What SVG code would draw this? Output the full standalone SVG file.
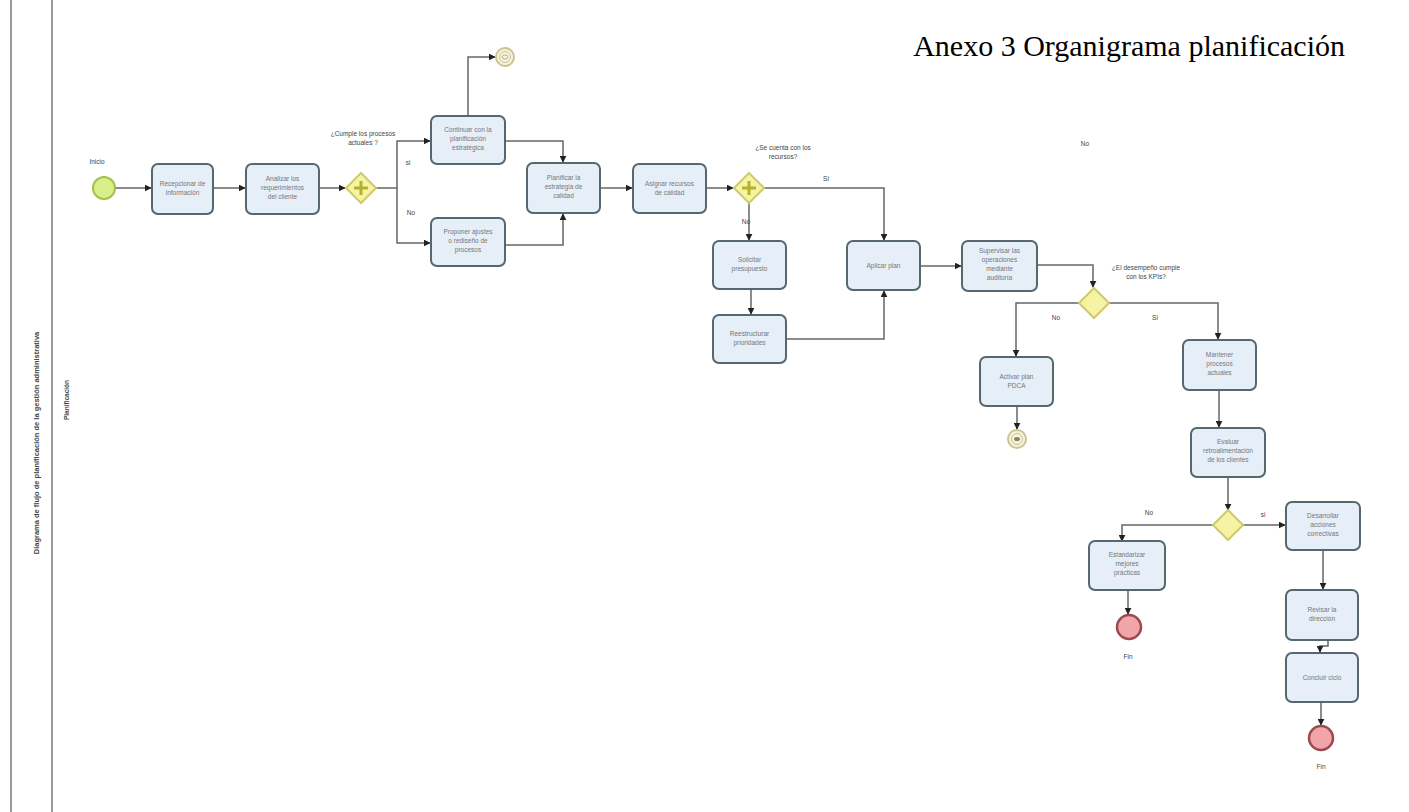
<svg xmlns="http://www.w3.org/2000/svg" width="1409" height="812" viewBox="0 0 1409 812">
<defs>
<marker id="arr" viewBox="0 0 10 10" refX="9" refY="5" markerWidth="7" markerHeight="7" orient="auto" markerUnits="userSpaceOnUse"><path d="M0,0 L10,5 L0,10 z" fill="#222"/></marker>
<style>
.task{fill:#e6eef8;stroke:#55676f;stroke-width:2}
.tt{font-family:"Liberation Sans",Arial,sans-serif;font-size:6.5px;fill:#777;text-anchor:middle}
.lbl{font-family:"Liberation Sans",Arial,sans-serif;font-size:6.5px;fill:#444;text-anchor:middle}
.gw{fill:#f6f4a4;stroke:#cfcb6a;stroke-width:2}
.plus{stroke:#b6b030;stroke-width:3;fill:none}
.c{fill:none;stroke:#666;stroke-width:1.5;marker-end:url(#arr)}
.endr{fill:#f2a5a8;stroke:#9c4a4e;stroke-width:2.5}
.endm{fill:#f7f4dc;stroke:#cbc393;stroke-width:2}
.lane{stroke:#999;stroke-width:2}
</style>
</defs>
<rect width="1409" height="812" fill="#fff"/>
<g id="pool">
<line class="lane" x1="11" y1="0" x2="11" y2="812"/>
<line class="lane" x1="52" y1="0" x2="52" y2="812"/>
<text transform="translate(39,443) rotate(-90)" font-family="Liberation Sans,Arial,sans-serif" font-size="7.5" font-weight="bold" fill="#444" text-anchor="middle">Diagrama de flujo de planificación de la gestión administrativa</text>
<text transform="translate(69,400) rotate(-90)" font-family="Liberation Sans,Arial,sans-serif" font-size="6.5" font-weight="bold" fill="#444" text-anchor="middle">Planificación</text>
</g>
<text x="1345" y="56" font-family="Liberation Serif,'Times New Roman',serif" font-size="30" fill="#000" text-anchor="end">Anexo 3 Organigrama planificación</text>

<g id="connectors">
<path class="c" d="M115,188 H151"/>
<path class="c" d="M213,188 H245"/>
<path class="c" d="M319,188 H345"/>
<path class="c" d="M376,188 H397 V141 H430"/>
<path class="c" d="M397,188 V243 H430"/>
<path class="c" d="M468,116 V57 H495"/>
<path class="c" d="M505,141 H563 V162"/>
<path class="c" d="M505,245 H563 V214"/>
<path class="c" d="M600,188 H632"/>
<path class="c" d="M706,188 H733"/>
<path class="c" d="M764,188 H884 V240"/>
<path class="c" d="M749,203 V240"/>
<path class="c" d="M751,289 V314"/>
<path class="c" d="M786,339 H884 V291"/>
<path class="c" d="M920,266 H961"/>
<path class="c" d="M1037,265 H1093 V287"/>
<path class="c" d="M1079,303 H1016 V356"/>
<path class="c" d="M1109,303 H1218 V339"/>
<path class="c" d="M1017,406 V429"/>
<path class="c" d="M1219,390 V427"/>
<path class="c" d="M1228,477 V510"/>
<path class="c" d="M1213,525 H1122 V541"/>
<path class="c" d="M1243,525 H1285"/>
<path class="c" d="M1128,590 V614"/>
<path class="c" d="M1323,550 V589"/>
<path class="c" d="M1328,640 V646 H1320 V652"/>
<path class="c" d="M1321,702 V725"/>
</g>

<g id="labels">
<text class="lbl" x="97" y="164">Inicio</text>
<text class="lbl" x="363" y="136">¿Cumple los procesos</text>
<text class="lbl" x="363" y="145">actuales ?</text>
<text class="lbl" x="408" y="165">si</text>
<text class="lbl" x="411" y="215">No</text>
<text class="lbl" x="783" y="150">¿Se cuenta con los</text>
<text class="lbl" x="783" y="159">recursos?</text>
<text class="lbl" x="826" y="181">Si</text>
<text class="lbl" x="746" y="224">No</text>
<text class="lbl" x="1085" y="146">No</text>
<text class="lbl" x="1146" y="270">¿El desempeño cumple</text>
<text class="lbl" x="1146" y="279">con los KPIs?</text>
<text class="lbl" x="1056" y="320">No</text>
<text class="lbl" x="1155" y="320">Si</text>
<text class="lbl" x="1149" y="515">No</text>
<text class="lbl" x="1263" y="517">si</text>
<text class="lbl" x="1128" y="659">Fin</text>
<text class="lbl" x="1321" y="769">Fin</text>
</g>

<g id="start"><circle cx="104" cy="188" r="11" fill="#d9ef8c" stroke="#a3c24a" stroke-width="2"/></g>

<g id="t1"><rect class="task" x="152" y="164" width="61" height="50" rx="6"/><text class="tt" x="182.5" y="186">Recepcionar de</text><text class="tt" x="182.5" y="195">información</text></g>
<g id="t2"><rect class="task" x="246" y="164" width="73" height="50" rx="6"/><text class="tt" x="282.5" y="181">Analizar los</text><text class="tt" x="282.5" y="190">requerimientos</text><text class="tt" x="282.5" y="199">del cliente</text></g>
<g id="g1"><path class="gw" d="M361,173 L376,188 L361,203 L346,188 z"/><path class="plus" d="M361,181 V195 M354,188 H368"/></g>
<g id="t3"><rect class="task" x="431" y="116" width="74" height="48" rx="6"/><text class="tt" x="468" y="132">Continuar con la</text><text class="tt" x="468" y="141">planificación</text><text class="tt" x="468" y="150">estratégica</text></g>
<g id="e1"><circle class="endm" cx="505" cy="57" r="9"/><circle cx="505" cy="57" r="5.5" fill="none" stroke="#cbc393" stroke-width="1"/><ellipse cx="505" cy="57" rx="3" ry="2" fill="none" stroke="#a8a070" stroke-width="0.8"/></g>
<g id="t4"><rect class="task" x="431" y="218" width="74" height="48" rx="6"/><text class="tt" x="468" y="234">Proponer ajustes</text><text class="tt" x="468" y="243">o rediseño de</text><text class="tt" x="468" y="252">procesos</text></g>
<g id="t5"><rect class="task" x="527" y="163" width="73" height="50" rx="6"/><text class="tt" x="563.5" y="180">Planificar la</text><text class="tt" x="563.5" y="189">estrategia de</text><text class="tt" x="563.5" y="198">calidad</text></g>
<g id="t6"><rect class="task" x="633" y="164" width="73" height="49" rx="6"/><text class="tt" x="669.5" y="186">Asignar recursos</text><text class="tt" x="669.5" y="195">de calidad</text></g>
<g id="g2"><path class="gw" d="M749,173 L764,188 L749,203 L734,188 z"/><path class="plus" d="M749,181 V195 M742,188 H756"/></g>
<g id="t7"><rect class="task" x="713" y="241" width="73" height="48" rx="6"/><text class="tt" x="749.5" y="262">Solicitar</text><text class="tt" x="749.5" y="271">presupuesto</text></g>
<g id="t8"><rect class="task" x="713" y="315" width="73" height="48" rx="6"/><text class="tt" x="749.5" y="336">Reestructurar</text><text class="tt" x="749.5" y="345">prioridades</text></g>
<g id="t9"><rect class="task" x="847" y="241" width="73" height="49" rx="6"/><text class="tt" x="883.5" y="268">Aplicar plan</text></g>
<g id="t10"><rect class="task" x="962" y="241" width="75" height="50" rx="6"/><text class="tt" x="999.5" y="253">Supervisar las</text><text class="tt" x="999.5" y="262">operaciones</text><text class="tt" x="999.5" y="271">mediante</text><text class="tt" x="999.5" y="280">auditoría</text></g>
<g id="g3"><path class="gw" d="M1094,288 L1109,303 L1094,318 L1079,303 z"/></g>
<g id="t11"><rect class="task" x="980" y="357" width="73" height="49" rx="6"/><text class="tt" x="1016.5" y="379">Activar plan</text><text class="tt" x="1016.5" y="388">PDCA</text></g>
<g id="e2"><circle class="endm" cx="1017" cy="439" r="9"/><circle cx="1017" cy="439" r="5.5" fill="none" stroke="#cbc393" stroke-width="1"/><ellipse cx="1017" cy="439" rx="3" ry="2" fill="#8a8460"/></g>
<g id="t12"><rect class="task" x="1183" y="340" width="73" height="50" rx="6"/><text class="tt" x="1219.5" y="357">Mantener</text><text class="tt" x="1219.5" y="366">procesos</text><text class="tt" x="1219.5" y="375">actuales</text></g>
<g id="t13"><rect class="task" x="1191" y="428" width="74" height="49" rx="6"/><text class="tt" x="1228" y="444">Evaluar</text><text class="tt" x="1228" y="453">retroalimentación</text><text class="tt" x="1228" y="462">de los clientes</text></g>
<g id="g4"><path class="gw" d="M1228,510 L1243,525 L1228,540 L1213,525 z"/></g>
<g id="t14"><rect class="task" x="1089" y="541" width="76" height="49" rx="6"/><text class="tt" x="1127" y="557">Estandarizar</text><text class="tt" x="1127" y="566">mejores</text><text class="tt" x="1127" y="575">prácticas</text></g>
<g id="e3"><circle class="endr" cx="1129" cy="627" r="12"/></g>
<g id="t15"><rect class="task" x="1286" y="502" width="74" height="48" rx="6"/><text class="tt" x="1323" y="518">Desarrollar</text><text class="tt" x="1323" y="527">acciones</text><text class="tt" x="1323" y="536">correctivas</text></g>
<g id="t16"><rect class="task" x="1286" y="590" width="72" height="50" rx="6"/><text class="tt" x="1322" y="612">Revisar la</text><text class="tt" x="1322" y="621">dirección</text></g>
<g id="t17"><rect class="task" x="1286" y="653" width="72" height="49" rx="6"/><text class="tt" x="1322" y="680">Concluir ciclo</text></g>
<g id="e4"><circle class="endr" cx="1321" cy="738" r="12"/></g>
</svg>
